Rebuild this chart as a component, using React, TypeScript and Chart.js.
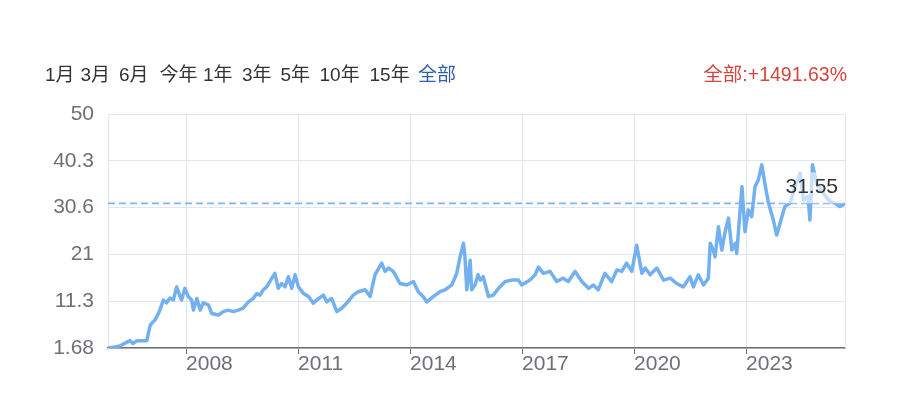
import React, { useEffect, useRef } from 'react';
import { Chart, registerables } from 'chart.js';

Chart.register(...registerables);

// decimal years
const dates: number[] = [
  2005.91, 2006.1, 2006.23, 2006.42, 2006.5, 2006.58, 2006.69, 2006.95, 2007.04, 2007.17,
  2007.26, 2007.3, 2007.39, 2007.48, 2007.57, 2007.66, 2007.75, 2007.84, 2007.88, 2007.97,
  2008.06, 2008.15, 2008.2, 2008.29, 2008.38, 2008.46, 2008.6, 2008.69, 2008.87, 2009.0,
  2009.13, 2009.27, 2009.4, 2009.53, 2009.67, 2009.8, 2009.89, 2009.98, 2010.07, 2010.16,
  2010.3, 2010.38, 2010.47, 2010.56, 2010.65, 2010.74, 2010.83, 2010.92, 2011.01, 2011.14,
  2011.28, 2011.41, 2011.5, 2011.68, 2011.77, 2011.9, 2012.04, 2012.17, 2012.3, 2012.48,
  2012.61, 2012.8, 2012.93, 2013.06, 2013.24, 2013.33, 2013.42, 2013.55, 2013.65, 2013.73,
  2013.91, 2014.09, 2014.22, 2014.35, 2014.45, 2014.62, 2014.8, 2014.94, 2015.12, 2015.25,
  2015.34, 2015.43, 2015.47, 2015.52, 2015.61, 2015.65, 2015.74, 2015.82, 2015.88, 2015.96,
  2016.1, 2016.23, 2016.37, 2016.55, 2016.72, 2016.9, 2016.99, 2017.21, 2017.35, 2017.44,
  2017.57, 2017.75, 2017.93, 2018.1, 2018.24, 2018.42, 2018.6, 2018.78, 2018.91, 2019.04,
  2019.22, 2019.4, 2019.54, 2019.67, 2019.8, 2019.94, 2020.07, 2020.21, 2020.3, 2020.43,
  2020.61, 2020.79, 2020.97, 2021.14, 2021.32, 2021.5, 2021.59, 2021.72, 2021.86, 2021.99,
  2022.04, 2022.12, 2022.17, 2022.26, 2022.35, 2022.44, 2022.53, 2022.62, 2022.71, 2022.75,
  2022.89, 2022.97, 2023.06, 2023.15, 2023.24, 2023.33, 2023.42, 2023.51, 2023.6, 2023.73,
  2023.82, 2023.96, 2024.04, 2024.18, 2024.31, 2024.45, 2024.54, 2024.66, 2024.71, 2024.78,
  2024.89, 2025.07, 2025.25, 2025.38, 2025.51, 2025.65,
];

const values: number[] = [
  1.7, 1.9, 2.1, 2.9, 3.2, 2.6, 3.2, 3.2, 6.4, 7.5,
  8.8, 9.5, 11.6, 11.0, 12.0, 11.6, 14.3, 12.3, 11.6, 14.0,
  12.3, 11.6, 9.5, 11.9, 9.5, 11.0, 10.6, 8.8, 8.5, 9.2,
  9.5, 9.2, 9.5, 9.9, 11.2, 11.9, 12.9, 12.6, 13.7, 14.3,
  16.1, 17.1, 14.0, 15.0, 14.3, 16.4, 14.0, 16.8, 14.3, 13.0,
  12.3, 10.9, 11.6, 12.6, 11.2, 11.9, 9.2, 9.9, 10.9, 12.6,
  13.3, 13.7, 12.3, 16.8, 19.2, 17.5, 18.2, 17.5, 16.1, 15.0,
  14.7, 15.4, 13.3, 12.3, 11.2, 12.3, 13.3, 13.7, 14.7, 17.1,
  20.5, 23.3, 20.5, 13.7, 19.8, 13.7, 14.7, 16.8, 15.7, 16.4,
  12.3, 12.6, 14.0, 15.4, 15.7, 15.7, 14.7, 15.7, 16.8, 18.4,
  17.1, 17.5, 15.4, 16.1, 15.4, 17.5, 15.4, 14.0, 14.7, 13.7,
  17.1, 15.4, 17.8, 17.5, 19.2, 17.5, 22.9, 17.1, 18.2, 16.8,
  18.2, 15.7, 16.1, 15.0, 14.3, 16.4, 14.3, 16.8, 14.7, 16.1,
  23.3, 21.9, 20.5, 26.7, 21.9, 25.7, 28.5, 21.9, 23.3, 21.2,
  35.0, 25.7, 30.2, 28.8, 35.0, 36.4, 39.5, 35.4, 31.6, 28.1,
  25.0, 28.8, 30.9, 31.6, 35.0, 37.7, 32.2, 33.0, 28.1, 39.5,
  35.7, 33.6, 31.9, 31.6, 30.9, 31.55,
];

const yTicks: number[] = [1.68, 11.344, 21.008, 30.672, 40.336, 50];
const yTickLabels: string[] = ['1.68', '11.3', '21', '30.6', '40.3', '50'];
const xTicks: number[] = [2008, 2011, 2014, 2017, 2020, 2023];
const xMin = 2005.91;
const xMax = 2025.65;
const latestValue = 31.55;

const rangeLabels: string[] = ['1月', '3月', '6月', '今年', '1年', '3年', '5年', '10年', '15年', '全部'];
const rangeLefts: number[] = [45, 80.5, 119, 159.5, 203, 242, 280.5, 319.5, 369.5, 418];
const activeRange = '全部';
const totalReturnText = '全部:+1491.63%';

const FONT = '"Liberation Sans", "Noto Sans CJK SC", sans-serif';
const GRID = '#e0e6f1';
const AXIS = '#6e7079';
const LINE = '#73b0f0';

export default function App() {
  const ref = useRef<HTMLCanvasElement | null>(null);

  useEffect(() => {
    if (!ref.current) return;
    const overlay = {
      id: 'overlay',
      beforeDatasetsDraw(chart: any) {
        const { ctx, chartArea } = chart;
        ctx.save();
        ctx.strokeStyle = GRID;
        ctx.lineWidth = 1;
        ctx.beginPath();
        ctx.moveTo(chartArea.right + 0.5, chartArea.top);
        ctx.lineTo(chartArea.right + 0.5, chartArea.bottom);
        ctx.stroke();
        ctx.restore();
      },
      afterDatasetsDraw(chart: any) {
        const { ctx, chartArea, scales } = chart;
        const y = scales.y.getPixelForValue(latestValue);
        const txt = latestValue.toFixed(2);
        ctx.save();
        ctx.font = '21px ' + FONT;
        const w = ctx.measureText(txt).width;
        const right = chartArea.right - 7;
        const cy = y - 16;
        ctx.fillStyle = 'rgba(255,255,255,0.6)';
        ctx.fillRect(right - w - 5, cy - 15, w + 12, y - (cy - 15));
        ctx.fillStyle = '#333';
        ctx.textAlign = 'right';
        ctx.textBaseline = 'middle';
        ctx.fillText(txt, right, cy);
        ctx.restore();
      },
    };

    const chart = new Chart(ref.current, {
      type: 'line',
      data: {
        datasets: [
          {
            data: dates.map((d, i) => ({ x: d, y: values[i] })),
            borderColor: LINE,
            borderWidth: 3.5,
            pointRadius: 0,
            tension: 0,
            fill: false,
            borderJoinStyle: 'round',
          },
          {
            data: [
              { x: xMin, y: latestValue },
              { x: xMax, y: latestValue },
            ],
            borderColor: '#7db4f2',
            borderWidth: 1.6,
            borderDash: [7, 4],
            pointRadius: 0,
            fill: false,
          },
        ],
      },
      options: {
        animation: false,
        responsive: false,
        events: [],
        layout: { padding: { left: 0, top: 114, right: 59, bottom: 0 } },
        plugins: { legend: { display: false }, tooltip: { enabled: false } },
        scales: {
          x: {
            type: 'linear',
            min: xMin,
            max: xMax,
            afterBuildTicks: (s: any) => {
              s.ticks = xTicks.map((v) => ({ value: v }));
            },
            afterFit: (s: any) => {
              s.height = 60;
            },
            ticks: {
              align: 'start',
              padding: -2,
              color: AXIS,
              font: { family: FONT, size: 21 },
              maxRotation: 0,
              callback: (v: any) => String(v),
            },
            grid: { color: GRID, tickColor: AXIS, tickLength: 6, lineWidth: 1 },
            border: { color: AXIS, width: 1.5 },
          },
          y: {
            type: 'linear',
            min: 1.68,
            max: 50,
            afterBuildTicks: (s: any) => {
              s.ticks = yTicks.map((v) => ({ value: v }));
            },
            afterFit: (s: any) => {
              s.width = 108;
            },
            ticks: {
              padding: 14,
              color: AXIS,
              font: { family: FONT, size: 21 },
              callback: (_v: any, i: number) => yTickLabels[i],
            },
            grid: { color: GRID, drawTicks: false, lineWidth: 1 },
            border: { color: GRID, width: 1 },
          },
        },
      },
      plugins: [overlay],
    } as any);
    return () => chart.destroy();
  }, []);

  return (
    <div style={{ position: 'absolute', left: 0, top: 0, width: 904, height: 408, background: '#fff' }}>
      <canvas ref={ref} width={904} height={408} style={{ position: 'absolute', left: 0, top: 0, width: 904, height: 408 }} />
      {rangeLabels.map((r, i) => (
        <div
          key={r}
          style={{
            position: 'absolute',
            left: rangeLefts[i],
            top: 65,
            fontFamily: FONT,
            fontSize: 19,
            lineHeight: '19px',
            color: r === activeRange ? '#2f5fb3' : '#333',
            whiteSpace: 'nowrap',
          }}
        >
          {r}
        </div>
      ))}
      <div
        style={{
          position: 'absolute',
          right: 904 - 847,
          top: 65,
          fontFamily: FONT,
          fontSize: 19.5,
          lineHeight: '19px',
          color: '#d6453d',
          whiteSpace: 'nowrap',
        }}
      >
        {totalReturnText}
      </div>
    </div>
  );
}
